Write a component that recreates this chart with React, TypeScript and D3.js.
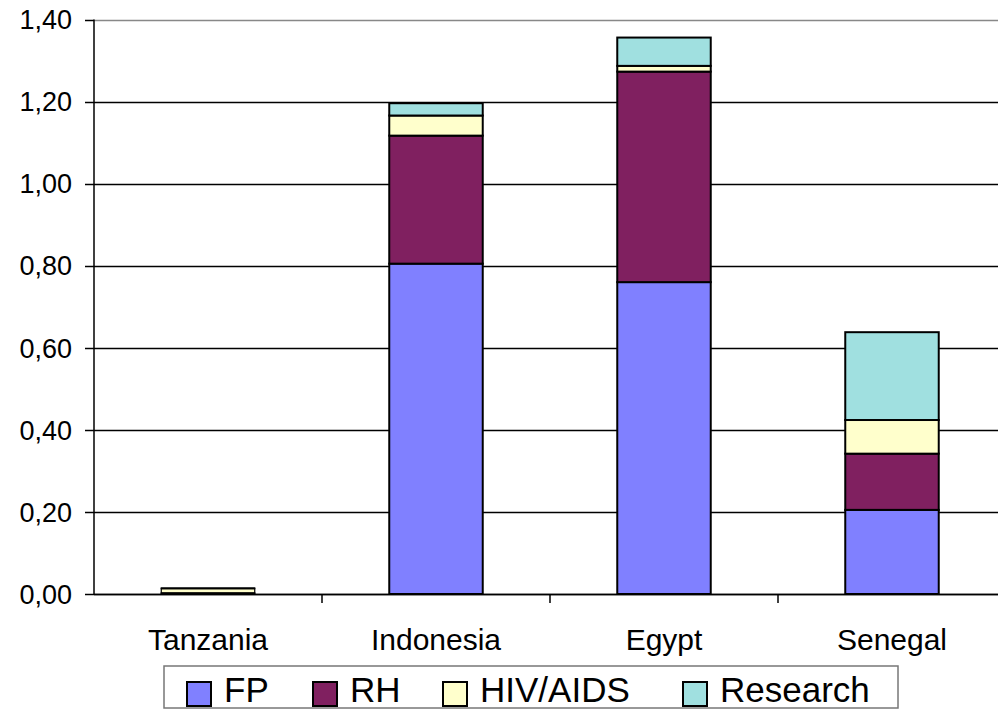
import React from "react";
import * as d3 from "d3";

const countries = ["Tanzania", "Indonesia", "Egypt", "Senegal"];
const seriesNames = ["FP", "RH", "HIV/AIDS", "Research"];
const seriesColors = ["#8080FF", "#802060", "#FFFFCC", "#A0E0E0"];
const fpValues = [0.001, 0.805, 0.76, 0.205];
const rhValues = [0.002, 0.312, 0.513, 0.137];
const hivValues = [0.01, 0.049, 0.014, 0.082];
const researchValues = [0.002, 0.03, 0.069, 0.214];
const yTicks = [0, 0.2, 0.4, 0.6, 0.8, 1.0, 1.2, 1.4];

const W = 998;
const H = 710;
const left = 94;
const right = 1006;
const top = 19.5;
const bottom = 594;
const font = "'Liberation Sans', Arial, sans-serif";

export default function App() {
  const x = d3.scaleBand<string>().domain(countries).range([left, right]).padding(0);
  const y = d3.scaleLinear().domain([0, 1.4]).range([bottom, top]);
  const fmt = (v: number) => d3.format(".2f")(v).replace(".", ",");

  const rows = countries.map((c, i) => ({
    country: c,
    FP: fpValues[i],
    RH: rhValues[i],
    "HIV/AIDS": hivValues[i],
    Research: researchValues[i],
  }));
  const stacked = d3.stack<any>().keys(seriesNames)(rows);
  const bw = x.bandwidth() * 0.41;

  const legendX = [187, 313, 443, 683];

  return (
    <svg width={W} height={H} style={{ position: "absolute", left: 0, top: 0 }}>
      <rect x={0} y={0} width={W} height={H} fill="#fff" />
      {/* gridlines */}
      {yTicks.map((t, i) => (
        <line
          key={t}
          x1={left}
          x2={right}
          y1={Math.round(y(t)) + 0.5}
          y2={Math.round(y(t)) + 0.5}
          stroke={i === yTicks.length - 1 ? "#888" : "#000"}
          strokeWidth={1.5}
        />
      ))}
      {/* y tick marks and labels */}
      {yTicks.map((t) => (
        <g key={"t" + t}>
          <line x1={85} x2={left} y1={Math.round(y(t)) + 0.5} y2={Math.round(y(t)) + 0.5} stroke="#000" strokeWidth={1.5} />
          <text
            x={72}
            y={y(t)}
            dy="0.36em"
            textAnchor="end"
            fontFamily={font}
            fontSize={27}
            fill="#000"
          >
            {fmt(t)}
          </text>
        </g>
      ))}
      {/* bars */}
      {stacked.map((s, si) =>
        s.map((d, ci) => (
          <rect
            key={si + "-" + ci}
            x={x(countries[ci])! + x.bandwidth() / 2 - bw / 2}
            y={y(d[1])}
            width={bw}
            height={Math.max(0, y(d[0]) - y(d[1]))}
            fill={seriesColors[si]}
            stroke="#000"
            strokeWidth={ci === 0 ? 1.2 : 2}
          />
        ))
      )}
      {/* axes */}
      <line x1={left} x2={left} y1={top} y2={bottom} stroke="#000" strokeWidth={1.5} />
      <line x1={left} x2={right} y1={bottom + 0.5} y2={bottom + 0.5} stroke="#000" strokeWidth={1.5} />
      {countries.map((c) => (
        <line
          key={"xt" + c}
          x1={x(c)! + x.bandwidth()}
          x2={x(c)! + x.bandwidth()}
          y1={bottom}
          y2={603}
          stroke="#000"
          strokeWidth={1.5}
        />
      ))}
      {countries.map((c) => (
        <text
          key={"xl" + c}
          x={x(c)! + x.bandwidth() / 2}
          y={650}
          textAnchor="middle"
          fontFamily={font}
          fontSize={30}
          fill="#000"
        >
          {c}
        </text>
      ))}
      {/* legend */}
      <rect x={164} y={666} width={734} height={42} fill="#fff" stroke="#777" strokeWidth={1.5} />
      {seriesNames.map((n, i) => (
        <g key={"lg" + n}>
          <rect x={legendX[i]} y={682} width={24} height={24} fill={seriesColors[i]} stroke="#000" strokeWidth={2} />
          <text x={legendX[i] + 37} y={702} fontFamily={font} fontSize={35} fill="#000">
            {n}
          </text>
        </g>
      ))}
    </svg>
  );
}
